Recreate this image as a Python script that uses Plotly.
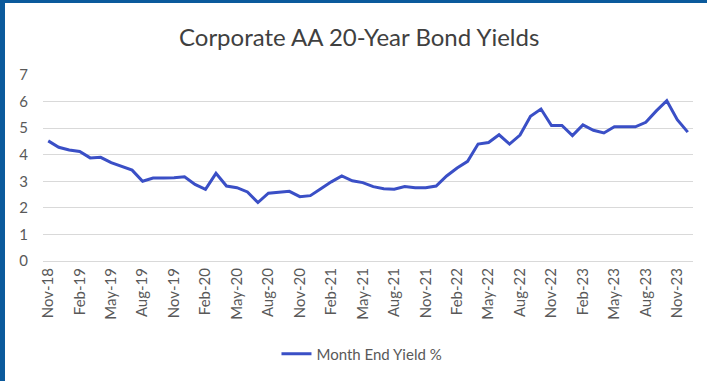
import plotly.graph_objects as go
import pandas as pd

# Categories: month-end dates Nov-2018 .. Dec-2023
months = [d.strftime("%b-%y") for d in pd.date_range("2018-11-01", "2023-12-01", freq="MS")]

yield_pct = [4.52, 4.28, 4.18, 4.12, 3.88, 3.90, 3.70, 3.55, 3.42, 3.00,
             3.12, 3.12, 3.13, 3.17, 2.88, 2.70, 3.30, 2.82, 2.76, 2.60,
             2.20, 2.55, 2.58, 2.62, 2.42, 2.46, 2.72, 2.98, 3.20, 3.02,
             2.95, 2.80, 2.72, 2.70, 2.80, 2.76, 2.76, 2.82, 3.20, 3.50,
             3.75, 4.40, 4.46, 4.75, 4.40, 4.74, 5.45, 5.72, 5.10, 5.10,
             4.72, 5.12, 4.92, 4.82, 5.05, 5.05, 5.05, 5.22, 5.65, 6.03,
             5.32, 4.85]

tick_labels = months[::3]
y_ticks = [0, 1, 2, 3, 4, 5, 6, 7]

W, H = 707, 381
L, R, T, B = 43, 14, 75, 120
pw, ph = W - L - R, H - T - B

def px_x(px):
    return (px - L) / pw

def px_y(py):
    return (H - B - py) / ph

FONT = "Lato"
GRAY = "#595959"

fig = go.Figure()
fig.add_trace(go.Scatter(
    x=months, y=yield_pct, mode="lines", name="Month End Yield %",
    line=dict(color="#3a4fc6", width=3),
))

fig.update_layout(
    width=W, height=H,
    margin=dict(l=L, r=R, t=T, b=B, pad=0),
    paper_bgcolor="white", plot_bgcolor="white",
    font=dict(family=FONT, color=GRAY, size=15),
    title=dict(text="Corporate AA 20-Year Bond Yields", x=0.508, xanchor="center",
               y=1 - 38 / H, yanchor="middle", yref="container",
               font=dict(family=FONT, size=24, color="#404040")),
    showlegend=True,
    legend=dict(orientation="h", x=0.512, xanchor="center", xref="container",
                y=1 - 354 / H, yanchor="middle", yref="container",
                font=dict(family=FONT, size=15, color=GRAY),
                bgcolor="rgba(0,0,0,0)"),
    xaxis=dict(type="category", categoryorder="array", categoryarray=months,
               range=[-0.5, len(months) - 0.5],
               tickmode="array", tickvals=tick_labels, ticktext=tick_labels,
               tickangle=-90, showgrid=False, zeroline=False,
               showline=True, linecolor="#d9d9d9", linewidth=1,
               ticks="", tickfont=dict(family=FONT, size=15, color=GRAY),
               fixedrange=True),
    yaxis=dict(range=[0, 7], tickmode="array", tickvals=y_ticks,
               showgrid=True, gridcolor="#d9d9d9", gridwidth=1,
               zeroline=False, showline=False, ticks="",
               ticklabelstandoff=14,
               tickfont=dict(family=FONT, size=15, color=GRAY),
               fixedrange=True),
    shapes=[
        dict(type="rect", xref="paper", yref="paper",
             x0=px_x(0), x1=px_x(5), y0=px_y(H), y1=px_y(0),
             fillcolor="#0b5a9c", line=dict(width=0), layer="above"),
        dict(type="rect", xref="paper", yref="paper",
             x0=px_x(0), x1=px_x(W), y0=px_y(3), y1=px_y(0),
             fillcolor="#0b5a9c", line=dict(width=0), layer="above"),
    ],
)

fig.write_html("out.html")
